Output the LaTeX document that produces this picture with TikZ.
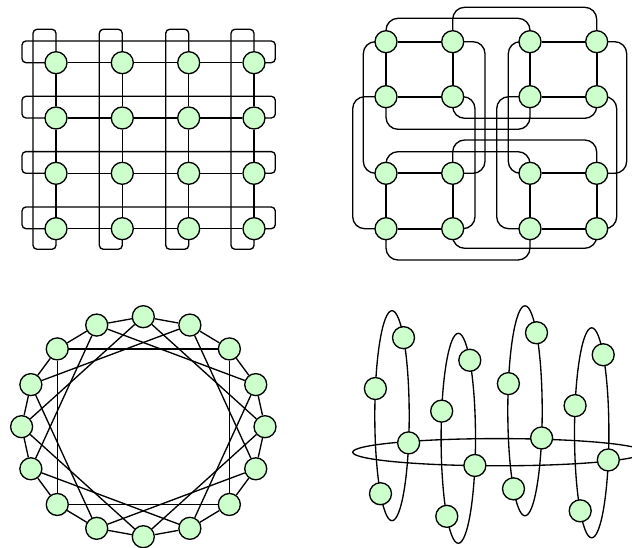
\documentclass[tikz,border=0pt]{standalone}
\usetikzlibrary{backgrounds}
\definecolor{nodegreen}{HTML}{CCFFCC}
\begin{document}
\begin{tikzpicture}[x=0.75pt, y=-0.75pt,
    every path/.append style={line width=1pt},
    vtx/.style={circle, draw, fill=nodegreen, minimum size=16.5pt, inner sep=0pt},
    wrap/.style={rounded corners=3pt},
    link/.style={rounded corners=9pt},
    cyc/.style={line width=1.5pt}]
\path[use as bounding box] (0,0) rectangle (632,548);

% 环面网格
\foreach \r/\y in {0/62.7,1/118,2/173.3,3/228.7}
  \foreach \c/\x in {0/56,1/122.3,2/188.7,3/254}
    \node[vtx] (a\r\c) at (\x,\y) {};
\begin{scope}[on background layer]
  \foreach \r/\y in {0/62.7,1/118,2/173.3,3/228.7}
    \draw[wrap] (a\r0.center) -- (22,\y) -- (22,\y-21.7) -- (275.3,\y-21.7) -- (275.3,\y) -- (a\r3.center);
  \foreach \c/\x in {0/56,1/122.3,2/188.7,3/254}
    \draw[wrap] (a0\c.center) -- (\x,29.3) -- (\x-23,29.3) -- (\x-23,249.3) -- (\x,249.3) -- (a3\c.center);
  \foreach \i in {0,...,3} {
    \draw (a\i0) -- (a\i1) -- (a\i2) -- (a\i3);
    \draw (a0\i) -- (a1\i) -- (a2\i) -- (a3\i);
  }
\end{scope}

% 四个小方块
\foreach \r/\y in {0/41.7,1/96.7,2/173.3,3/228.7}
  \foreach \c/\x in {0/386,1/452.7,2/530,3/596.7}
    \node[vtx] (b\r\c) at (\x,\y) {};
\begin{scope}[on background layer]
  \foreach \r/\s in {0/1,2/3}
    \foreach \c/\d in {0/1,2/3}
      \draw[cyc] (b\r\c) -- (b\r\d) (b\s\c) -- (b\s\d) (b\r\c) -- (b\s\c) (b\r\d) -- (b\s\d);
  % 横向连线
  \foreach \r/\p/\q in {0/18.3/7.3, 1/129.3/118.3, 2/151.7/140, 3/260/248.3} {
    \draw[link] (b\r0.center) -- (b\r0 |- 0,\p) -- (b\r2 |- 0,\p) -- (b\r2.center);
    \draw[link] (b\r1.center) -- (b\r1 |- 0,\q) -- (b\r3 |- 0,\q) -- (b\r3.center);
  }
  % 纵向连线
  \foreach \c/\p/\q in {0/363.3/352.7, 1/485/475, 2/508.3/496.7, 3/626.7/616.7} {
    \draw[link] (b0\c.center) -- (\p,0 |- b0\c) -- (\p,0 |- b2\c) -- (b2\c.center);
    \draw[link] (b1\c.center) -- (\q,0 |- b1\c) -- (\q,0 |- b3\c) -- (b3\c.center);
  }
\end{scope}

% 环形排列
\begin{scope}[shift={(143.3,426.7)}]
  \foreach \k in {0,...,15}
    \node[vtx] (c\k) at ({-90+22.5*\k}:121.7 and 110) {};
\end{scope}
\begin{scope}[on background layer]
  \foreach \k in {0,...,15} {
    \pgfmathtruncatemacro\n{mod(\k+1,16)}
    \pgfmathtruncatemacro\m{mod(\k+4,16)}
    \draw (c\k) -- (c\n);
    \draw (c\k) -- (c\m);
  }
\end{scope}

% 竖环与横环
\foreach \e/\x/\y in {1/392/415.7, 2/458.3/438.3, 3/525/410.8, 4/591.7/432.8} {
  \begin{scope}[shift={(\x,\y)}]
    \coordinate (o\e) at (0,0);
    \foreach \m/\a in {1/312,2/195,3/15,4/132}
      \node[vtx] (d\e\m) at (\a:17.2 and 105) {};
  \end{scope}
}
\coordinate (h) at (498.4,452.2);
\begin{scope}[on background layer]
  \foreach \e in {1,...,4}
    \draw (o\e) ellipse [x radius=17.2, y radius=105];
  \draw (h) ellipse [x radius=145.7, y radius=13.6];
\end{scope}
\end{tikzpicture}
\end{document}
